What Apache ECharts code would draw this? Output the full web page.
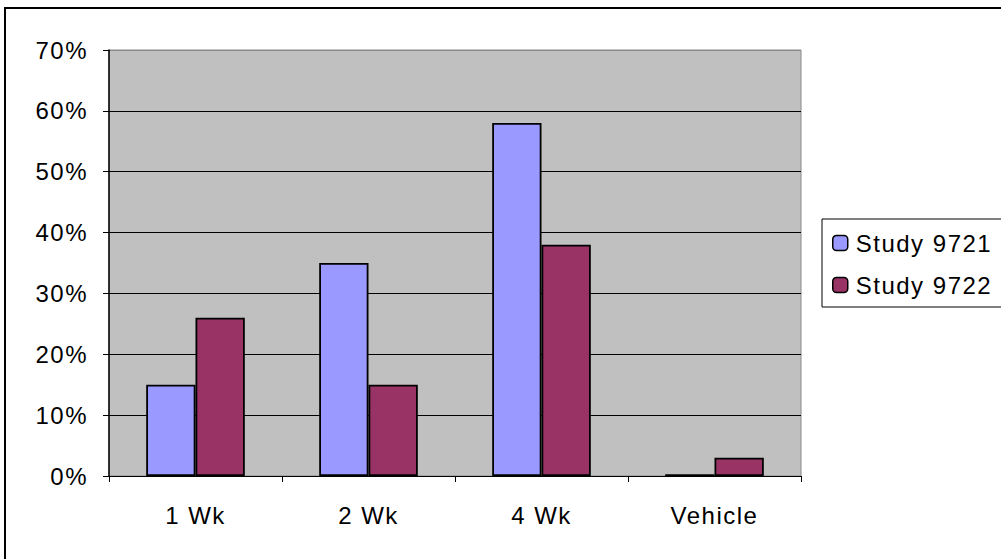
<!DOCTYPE html>
<html><head><meta charset="utf-8">
<script src="https://cdn.jsdelivr.net/npm/echarts@6/dist/echarts.min.js"></script>
<style>html,body{margin:0;padding:0;background:#fff}#c{width:1001px;height:559px}#c text{letter-spacing:1.5px}</style>
</head><body><div id="c"></div>
<script>
const categories = ['1 Wk', '2 Wk', '4 Wk', 'Vehicle'];
const study9721 = [15, 35, 58, 0.3];
const study9722 = [26, 15, 38, 3];
const yTicks = [0, 10, 20, 30, 40, 50, 60, 70];

const chart = echarts.init(document.getElementById('c'), null, {renderer: 'svg'});
const font = 'Liberation Sans, Arial, sans-serif';
chart.setOption({
  animation: false,
  backgroundColor: '#fff',
  textStyle: {fontFamily: font},
  graphic: [{type: 'rect', shape: {x: 5, y: 8, width: 1200, height: 700}, style: {fill: 'none', stroke: '#000', lineWidth: 2}, z: 0}],
  grid: {left: 109, top: 50, width: 692, height: 426, show: true, backgroundColor: '#C0C0C0', borderColor: '#8a8a8a', borderWidth: 1},
  legend: {
    orient: 'vertical', left: 822, top: 219,
    data: ['Study 9721', 'Study 9722'],
    backgroundColor: '#fff', borderColor: '#000', borderWidth: 1,
    padding: [12, 40, 10, 10], itemGap: 18, itemWidth: 15, itemHeight: 15,
    textStyle: {fontFamily: font, fontSize: 24, color: '#000', padding: [0, 0, 0, 3]},
    itemStyle: {borderColor: '#000', borderWidth: 1.5}
  },
  xAxis: {
    type: 'category', data: categories,
    axisLine: {lineStyle: {color: '#000', width: 1}},
    axisTick: {show: true, length: 6, lineStyle: {color: '#000'}},
    axisLabel: {color: '#000', fontSize: 24, margin: 27, fontFamily: font}
  },
  yAxis: {
    type: 'value', min: 0, max: 70, interval: 10,
    axisLine: {show: true, lineStyle: {color: '#000', width: 1.5}},
    axisTick: {show: true, length: 6, lineStyle: {color: '#000'}},
    axisLabel: {color: '#000', fontSize: 24, margin: 21, fontFamily: font, formatter: v => yTicks.includes(v) ? v + '%' : ''},
    splitLine: {show: true, lineStyle: {color: ['#000','#000','#000','#000','#000','#000','#000','#8a8a8a'], width: 1}}
  },
  series: [
    {name: 'Study 9721', type: 'bar', data: study9721, barGap: '0%', barCategoryGap: '43%',
     itemStyle: {color: '#9999FF', borderColor: '#000', borderWidth: 1.8}},
    {name: 'Study 9722', type: 'bar', data: study9722, barGap: '0%', barCategoryGap: '43%',
     itemStyle: {color: '#993366', borderColor: '#000', borderWidth: 1.8}}
  ]
});
</script></body></html>
